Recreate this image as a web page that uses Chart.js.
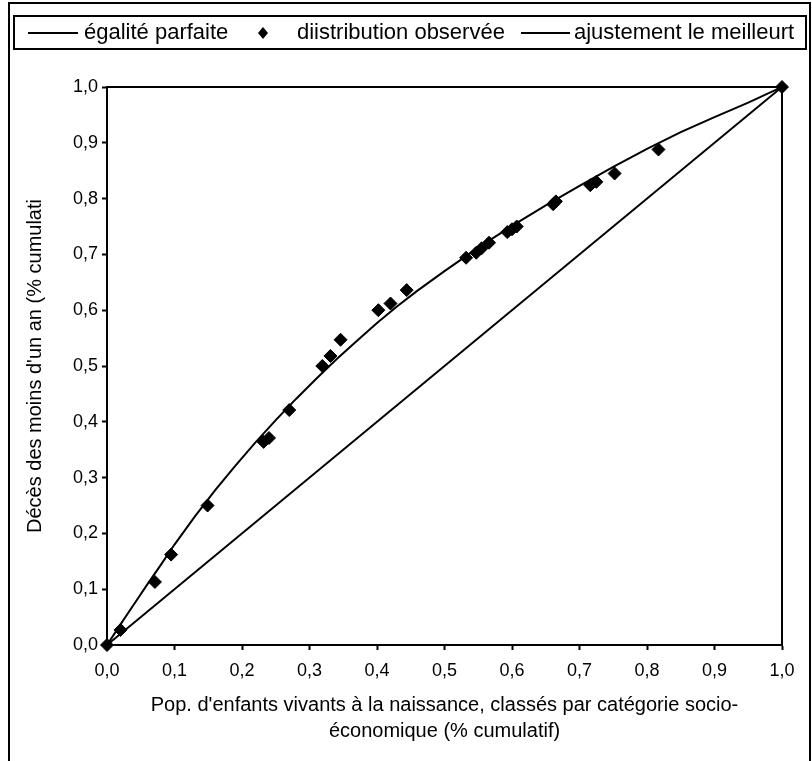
<!DOCTYPE html>
<html>
<head>
<meta charset="utf-8">
<script src="https://cdn.jsdelivr.net/npm/chart.js@4.4.0/dist/chart.umd.min.js"></script>
<style>
  body { margin: 0; background: #fff; }
</style>
</head>
<body>
<canvas id="lorenzChart" width="812" height="761"></canvas>
<script>
// distribution observée (points)
var obsX = [0, 0.020, 0.071, 0.095, 0.149, 0.232, 0.240, 0.270, 0.319, 0.331, 0.346, 0.402, 0.420, 0.444,
            0.532, 0.547, 0.555, 0.566, 0.593, 0.600, 0.607, 0.661, 0.665, 0.716, 0.725, 0.752, 0.817, 1.0];
var obsY = [0, 0.027, 0.113, 0.162, 0.250, 0.364, 0.371, 0.421, 0.500, 0.518, 0.547, 0.600, 0.612, 0.636,
            0.694, 0.703, 0.711, 0.721, 0.740, 0.745, 0.750, 0.790, 0.795, 0.824, 0.830, 0.845, 0.888, 1.0];

// ajustement le meilleur (courbe)
var fitX = [0, 0.02, 0.04, 0.06, 0.08, 0.10, 0.13, 0.16, 0.19, 0.22, 0.25, 0.28, 0.31, 0.34, 0.37,
            0.40, 0.43, 0.46, 0.50, 0.55, 0.60, 0.65, 0.70, 0.75, 0.80, 0.85, 0.90, 0.95, 1.0];
var fitY = [0, 0.037, 0.073, 0.109, 0.144, 0.180, 0.230, 0.277, 0.321, 0.363, 0.403, 0.441, 0.477, 0.512, 0.545,
            0.577, 0.607, 0.635, 0.670, 0.712, 0.751, 0.788, 0.823, 0.857, 0.889, 0.919, 0.946, 0.972, 1.0];

// égalité parfaite
var egalX = [0, 1];
var egalY = [0, 1];

var tickLabels = ['0,0', '0,1', '0,2', '0,3', '0,4', '0,5', '0,6', '0,7', '0,8', '0,9', '1,0'];

var FONT = '"Liberation Sans", Arial, sans-serif';

function toPoints(xs, ys) {
    return xs.map(function (x, i) { return { x: x, y: ys[i] }; });
}

// frame, plot border and legend drawn like the original sheet
var framePlugin = {
    id: 'frame',
    beforeDraw: function (chart) {
        var ctx = chart.ctx;
        ctx.save();
        ctx.fillStyle = '#fff';
        ctx.fillRect(0, 0, chart.width, chart.height);
        ctx.restore();
    },
    afterDraw: function (chart) {
        var ctx = chart.ctx;
        var a = chart.chartArea;
        var ds = chart.data.datasets;
        ctx.save();
        ctx.strokeStyle = '#000';
        ctx.lineWidth = 2;
        ctx.strokeRect(a.left, a.top, a.right - a.left, a.bottom - a.top);
        ctx.strokeRect(9, 3, 801, 790);

        // legend box
        ctx.strokeRect(14, 16, 792, 33);
        var ly = 33;
        ctx.font = '22px ' + FONT;
        ctx.fillStyle = '#000';
        ctx.textBaseline = 'middle';
        ctx.lineWidth = 2;
        // égalité parfaite
        ctx.beginPath(); ctx.moveTo(28, ly); ctx.lineTo(78, ly); ctx.stroke();
        ctx.fillText(ds[0].label, 84, ly);
        // distribution observée
        ctx.beginPath();
        ctx.moveTo(263, ly - 6); ctx.lineTo(268, ly); ctx.lineTo(263, ly + 6); ctx.lineTo(258, ly);
        ctx.closePath(); ctx.fill();
        ctx.fillText(ds[2].label, 297, ly);
        // ajustement
        ctx.beginPath(); ctx.moveTo(521, ly); ctx.lineTo(570, ly); ctx.stroke();
        ctx.fillText(ds[1].label, 574, ly);
        ctx.restore();
    }
};

var ctx = document.getElementById('lorenzChart').getContext('2d');
var lorenzChart = new Chart(ctx, {
    type: 'scatter',
    data: {
        datasets: [{
            label: 'égalité parfaite',
            data: toPoints(egalX, egalY),
            showLine: true,
            borderColor: '#000',
            borderWidth: 2,
            pointRadius: 0,
            order: 3
        }, {
            label: 'ajustement le meilleurt',
            data: toPoints(fitX, fitY),
            showLine: true,
            borderColor: '#000',
            borderWidth: 2,
            pointRadius: 0,
            tension: 0,
            order: 2
        }, {
            label: 'diistribution observée',
            data: toPoints(obsX, obsY),
            showLine: false,
            pointStyle: 'rectRot',
            pointRadius: 6.5,
            pointBackgroundColor: '#000',
            pointBorderColor: '#000',
            pointBorderWidth: 1,
            clip: false,
            order: 1
        }]
    },
    options: {
        responsive: false,
        animation: false,
        layout: { padding: { top: 87, right: 30, left: 0, bottom: 0 } },
        plugins: {
            legend: { display: false },
            tooltip: { enabled: false }
        },
        scales: {
            x: {
                type: 'linear', min: 0, max: 1,
                ticks: {
                    stepSize: 0.1, color: '#000', padding: 10, maxRotation: 0, autoSkip: false,
                    font: { family: FONT, size: 18 },
                    callback: function (v, i) { return tickLabels[i]; }
                },
                grid: { drawOnChartArea: false, drawTicks: true, tickLength: 5, tickWidth: 2, tickColor: '#000' },
                border: { display: true, color: '#000', width: 2 },
                title: {
                    display: true,
                    text: ["Pop. d'enfants vivants à la naissance, classés par catégorie socio-", 'économique (% cumulatif)'],
                    color: '#000',
                    font: { family: FONT, size: 20, lineHeight: 1.3 },
                    padding: { top: 0, bottom: 17 }
                },
                afterFit: function (s) { s.height = 116; }
            },
            y: {
                type: 'linear', min: 0, max: 1,
                ticks: {
                    stepSize: 0.1, color: '#000', padding: 4,
                    font: { family: FONT, size: 18 },
                    callback: function (v, i) { return tickLabels[i]; }
                },
                grid: { drawOnChartArea: false, drawTicks: true, tickLength: 5, tickWidth: 2, tickColor: '#000' },
                border: { display: true, color: '#000', width: 2 },
                title: {
                    display: true,
                    text: "Décès des moins d'un an (% cumulati",
                    color: '#000',
                    font: { family: FONT, size: 20 },
                    padding: { top: 23, bottom: 0 }
                },
                afterFit: function (s) { s.width = 107; }
            }
        }
    },
    plugins: [framePlugin]
});
</script>
</body>
</html>
